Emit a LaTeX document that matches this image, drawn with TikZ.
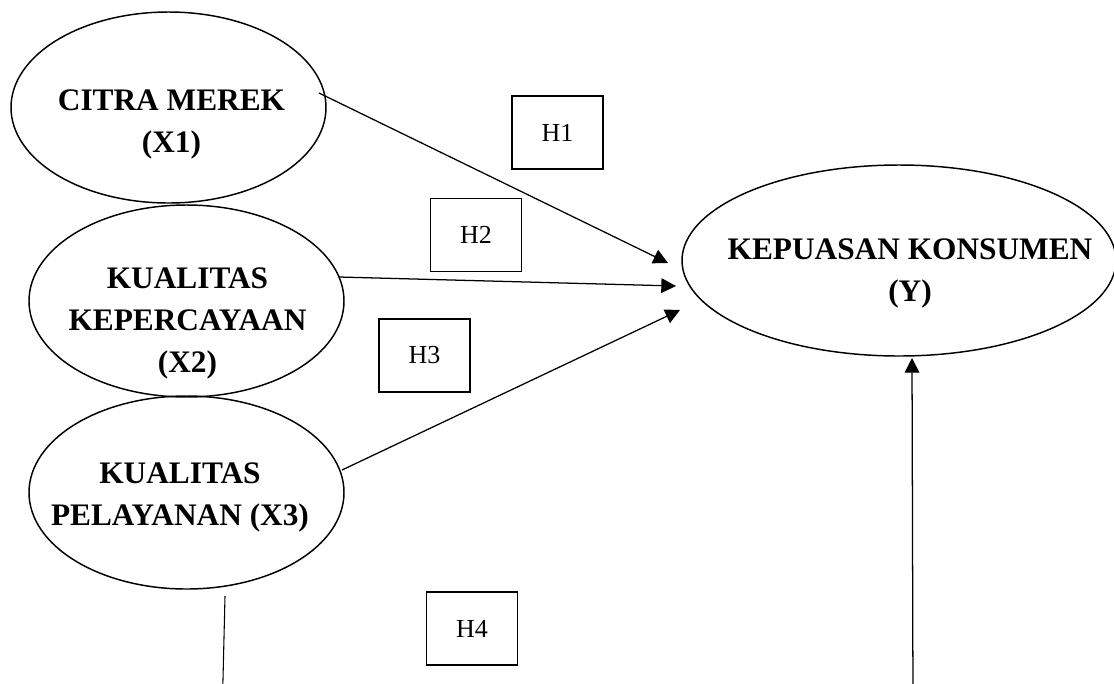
\documentclass[tikz,border=0pt]{standalone}
\usepackage{fontspec}
\setmainfont{Liberation Serif}
\usetikzlibrary{shapes.geometric,arrows.meta}
\begin{document}
\begin{tikzpicture}[x=0.75pt,y=-0.75pt,
  varell/.style={ellipse, draw, line width=1.1pt, inner sep=0pt},
  vartext/.style={align=center, font=\fontsize{23.5}{31.5}\selectfont\bfseries, inner sep=0pt},
  hbox/.style={draw, line width=1.2pt, minimum width=68.25pt, minimum height=54.75pt, inner sep=0pt, font=\fontsize{19.5}{22}\selectfont},
  link/.style={line width=0.95pt, -{Triangle[length=11pt,width=11pt]}},
  plainline/.style={line width=0.8pt}]
\clip (0,0) rectangle (1114,683);
\fill[white] (0,0) rectangle (1114,683);
% ellipses
\node[varell, minimum width=236.25pt, minimum height=143.25pt] (x1) at (168.5,107.5) {};
\node[varell, minimum width=236.25pt, minimum height=144pt] (x2) at (186.5,301) {};
\node[varell, minimum width=236.25pt, minimum height=144.75pt] (x3) at (186.5,492.5) {};
\node[varell, minimum width=325.5pt, minimum height=143.25pt] (y) at (899,260.5) {};
% labels
\node[vartext] (tx1) at (171.5,124) {CITRA MEREK\\(X1)};
\node[vartext] (tx2) at (187.5,323.5) {KUALITAS\\KEPERCAYAAN\\(X2)};
\node[vartext] (tx3) at (180,497) {KUALITAS\\PELAYANAN (X3)};
\node[vartext] (ty) at (910,273) {KEPUASAN KONSUMEN\\(Y)};
% hypothesis boxes
\node[hbox] (h1) at (557.5,132.5) {H1};
\node[hbox] (h2) at (476,235) {H2};
\node[hbox] (h3) at (424.5,355.5) {H3};
\node[hbox] (h4) at (472,628.5) {H4};
% connector end points
\coordinate (a1s) at (319,93);
\coordinate (a1e) at (668,263);
\coordinate (a2s) at (339,277);
\coordinate (a2e) at (676,286);
\coordinate (a3s) at (342,470);
\coordinate (a3e) at (680,310);
\coordinate (a4s) at (913,700);
\coordinate (a4e) at (912,358);
\coordinate (l5s) at (225,596);
\coordinate (l5e) at (222.5,700);
% connectors
\draw[link] (a1s) -- (a1e);
\draw[link] (a2s) -- (a2e);
\draw[link] (a3s) -- (a3e);
\draw[link] (a4s) -- (a4e);
\draw[plainline] (l5s) -- (l5e);
\end{tikzpicture}
\end{document}
